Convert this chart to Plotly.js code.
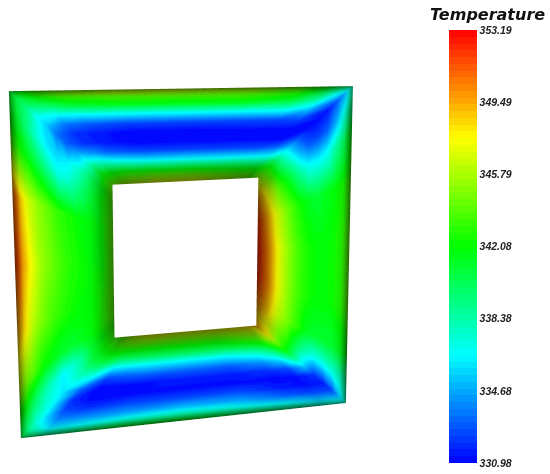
<!DOCTYPE html>
<html>
<head>
<meta charset="utf-8">
<script src="https://cdn.plot.ly/plotly-3.0.1.min.js"></script>
<style>html,body{margin:0;padding:0;background:#fff}#chart{width:550px;height:474px}</style>
</head>
<body>
<div id="chart"></div>
<script>
// frame outline, clockwise from top left (image pixels)
const outerX = [10, 352, 345, 22];
const outerY = [92, 87, 402, 437];
const innerX = [113, 258, 256, 115];
const innerY = [185, 178, 325, 337];

// where the sample rows and columns sit inside each side of the frame
const bandFractions = [0, 0.03, 0.08, 0.16, 0.26, 0.36, 0.46, 0.56, 0.66, 0.76, 0.88, 1];
const sideFractions = [0, 0.07, 0.15, 0.3, 0.5, 0.7, 0.85, 0.93];
const bandHeight = [0, 10, 15, 18, 19, 19, 19, 19, 19, 17, 9, -22];

// temperatures, outer edge to hole edge, one row per sideFractions entry
const topSide = [
  [341, 341, 340.5, 339.5, 337, 335.5, 333.5, 333, 334.5, 337.5, 341.5, 344],
  [343, 343, 342, 340, 336.5, 333.5, 332, 332, 334, 337.5, 342, 345],
  [344.5, 344.5, 343, 341, 336.5, 333, 331.5, 331.5, 333, 337, 342.5, 346],
  [345.5, 345.5, 343.5, 341.5, 336.5, 332.5, 331, 331, 332.5, 336.5, 342.5, 347],
  [345.5, 345.5, 343.5, 341.5, 336.5, 332.5, 331, 331, 332.5, 336.5, 342.5, 347],
  [345, 345, 343.5, 341.5, 336.5, 332.5, 331.2, 331, 332.5, 336.5, 342, 346],
  [344, 343.5, 342.5, 340.5, 336.5, 332.5, 331.2, 331, 332.5, 336.5, 341.5, 345],
  [342, 341, 340, 338, 335, 332.5, 331.2, 331, 333, 336.5, 341.5, 344]
];
const rightSide = [
  [339, 337, 335, 333, 331.5, 331.2, 331.3, 332.5, 335, 338, 342, 345],
  [340, 339, 337.5, 335, 333, 332.5, 333, 335, 338, 340.5, 344, 348],
  [342, 341.5, 340, 338.5, 336.5, 336, 336.5, 338.5, 341, 343, 346.5, 350],
  [343.5, 343, 342.5, 342, 341.5, 341, 341.5, 342.5, 344, 346, 349, 352],
  [344, 343.5, 342.8, 342.3, 342, 342, 342.5, 343.5, 345, 347, 350, 352.5],
  [344, 343.5, 342.8, 342.3, 342, 342, 342.5, 343.5, 345, 347, 350, 352],
  [342, 341.5, 341.5, 341, 341, 341, 341.5, 343, 344.5, 346, 348.5, 350],
  [339, 338.5, 338, 337.5, 337, 337, 338.5, 340.5, 343, 344.5, 347, 348.5]
];
const bottomSide = [
  [338, 337, 335, 332.5, 331.5, 332, 335, 338.5, 341.5, 344, 347.5, 349],
  [338, 337, 335, 332.5, 331.2, 331.2, 332.5, 335.5, 338.5, 341.5, 344.5, 348],
  [339, 338, 336, 333, 331.5, 331, 332, 334, 337, 340.5, 344, 347.5],
  [340.5, 339, 337, 334.5, 332.5, 331.2, 331.5, 333, 336, 340, 343, 347],
  [342, 340.5, 338, 335, 332.5, 331.2, 331.5, 333, 336, 340, 343, 347],
  [341.5, 340, 337.5, 334.5, 332.5, 331.2, 331.2, 333, 336, 340, 343, 347],
  [340, 338.5, 336.5, 334, 332, 331, 331, 332.5, 336, 340, 343, 346],
  [339, 338, 336, 334, 332.5, 332, 333, 336, 338.5, 341, 342.5, 344]
];
const leftSide = [
  [340, 340, 339, 337.5, 337, 336.5, 336, 337, 338.5, 340.5, 342, 343],
  [342.5, 342, 341.5, 340, 338.5, 337.5, 336.5, 337.5, 339, 341, 342, 343],
  [346, 345.5, 344.5, 343.5, 342, 341.5, 341, 341, 341.5, 342, 342.5, 344],
  [349, 349, 348, 346, 344.5, 343.5, 342.8, 342.3, 342, 342, 342.5, 344],
  [351.5, 351.5, 349.5, 347.5, 345.5, 344.5, 343.5, 342.8, 342.3, 342, 342, 344],
  [350.5, 350.5, 348.5, 346.5, 345, 344, 343, 342.5, 342, 342, 342, 344],
  [343.5, 343, 342.5, 341.5, 340, 338.5, 337, 337.5, 339, 340.5, 342, 343.5],
  [342, 341.5, 341, 339.5, 337.5, 336, 335.5, 336, 337.5, 339.5, 341.5, 344]
];

const tickValues = [330.98, 334.68, 338.38, 342.08, 345.79, 349.49, 353.19];
const tickLabels = ["330.98", "334.68", "338.38", "342.08", "345.79", "349.49", "353.19"];
const rainbow = ["#0000ff", "#00ffff", "#00ff00", "#ffff00", "#ff0000"];
const BANDS_PER_HUE = 16;

const PAGE_H = 474;
const SCENE_W = 400;
const ZOOM = 2.012;
const sides = [topSide, rightSide, bottomSide, leftSide];

const x = [], y = [], z = [], temps = [];
sides.forEach((side, c) => {
  const d = (c + 1) % 4;
  side.forEach((row, st) => {
    const s = sideFractions[st];
    row.forEach((t, rg) => {
      const r = bandFractions[rg];
      const ox = outerX[c] + (outerX[d] - outerX[c]) * s;
      const oy = outerY[c] + (outerY[d] - outerY[c]) * s;
      const ix = innerX[c] + (innerX[d] - innerX[c]) * s;
      const iy = innerY[c] + (innerY[d] - innerY[c]) * s;
      x.push(ox + (ix - ox) * r);
      y.push(PAGE_H - (oy + (iy - oy) * r));
      z.push(bandHeight[rg]);
      temps.push(t);
    });
  });
});

const nRing = bandFractions.length;
const nStation = sides.length * sideFractions.length;
const ti = [], tj = [], tk = [];
for (let st = 0; st < nStation; st++) {
  const next = (st + 1) % nStation;
  for (let rg = 0; rg < nRing - 1; rg++) {
    const a = st * nRing + rg, b = next * nRing + rg;
    ti.push(a, b);
    tj.push(a + 1, a + 1);
    tk.push(b, b + 1);
  }
}

// stepped rainbow, the original legend shows visible bands
function hexRgb(h) {
  return [1, 3, 5].map((p) => parseInt(h.substr(p, 2), 16));
}
const colorscale = [];
const nBands = (rainbow.length - 1) * BANDS_PER_HUE;
for (let n = 0; n < nBands; n++) {
  const pos = (n + 0.5) / BANDS_PER_HUE;
  const from = hexRgb(rainbow[Math.floor(pos)]);
  const to = hexRgb(rainbow[Math.floor(pos) + 1]);
  const f = pos - Math.floor(pos);
  const rgb = from.map((v, m) => Math.round(v + (to[m] - v) * f));
  const col = "rgb(" + rgb.join(",") + ")";
  colorscale.push([n / nBands, col], [(n + 1) / nBands, col]);
}

const frame = {
  type: "mesh3d",
  x: x, y: y, z: z,
  i: ti, j: tj, k: tk,
  intensity: temps,
  cmin: 330.98,
  cmax: 353.19,
  colorscale: colorscale,
  hoverinfo: "skip",
  flatshading: false,
  lighting: { ambient: 0.18, diffuse: 0.82, specular: 0, roughness: 1, fresnel: 0 },
  lightposition: { x: 0, y: 0, z: -100000 },
  colorbar: {
    x: 449 / 550,
    xanchor: "left",
    xpad: 0,
    y: (PAGE_H - 30) / PAGE_H,
    yanchor: "top",
    ypad: 0,
    len: 433,
    lenmode: "pixels",
    thickness: 28,
    thicknessmode: "pixels",
    outlinewidth: 0,
    ticks: "",
    tickmode: "array",
    tickvals: tickValues,
    ticktext: tickLabels,
    tickfont: { family: "Liberation Sans", size: 10.5, style: "italic", weight: "bold", color: "#222222" }
  }
};

const layout = {
  width: 550,
  height: PAGE_H,
  margin: { l: 0, r: 0, t: 0, b: 0 },
  paper_bgcolor: "#ffffff",
  showlegend: false,
  scene: {
    domain: { x: [0, SCENE_W / 550], y: [0, 1] },
    bgcolor: "#ffffff",
    aspectmode: "manual",
    aspectratio: { x: ZOOM * SCENE_W / PAGE_H, y: ZOOM, z: ZOOM * 60 / PAGE_H },
    camera: {
      eye: { x: 0, y: 0, z: 1.5 },
      up: { x: 0, y: 1, z: 0 },
      center: { x: 0, y: 0, z: 0 },
      projection: { type: "orthographic" }
    },
    xaxis: { visible: false, range: [0, SCENE_W] },
    yaxis: { visible: false, range: [0, PAGE_H] },
    zaxis: { visible: false, range: [-30, 30] }
  },
  annotations: [{
    text: "Temperature",
    xref: "paper", yref: "paper",
    x: 487 / 550,
    y: (PAGE_H - 15) / PAGE_H,
    xanchor: "center",
    yanchor: "middle",
    showarrow: false,
    font: { family: "DejaVu Sans", size: 16, style: "italic", weight: "bold", color: "#111111" }
  }]
};

Plotly.newPlot("chart", [frame], layout, { displayModeBar: false });
</script>
</body>
</html>
